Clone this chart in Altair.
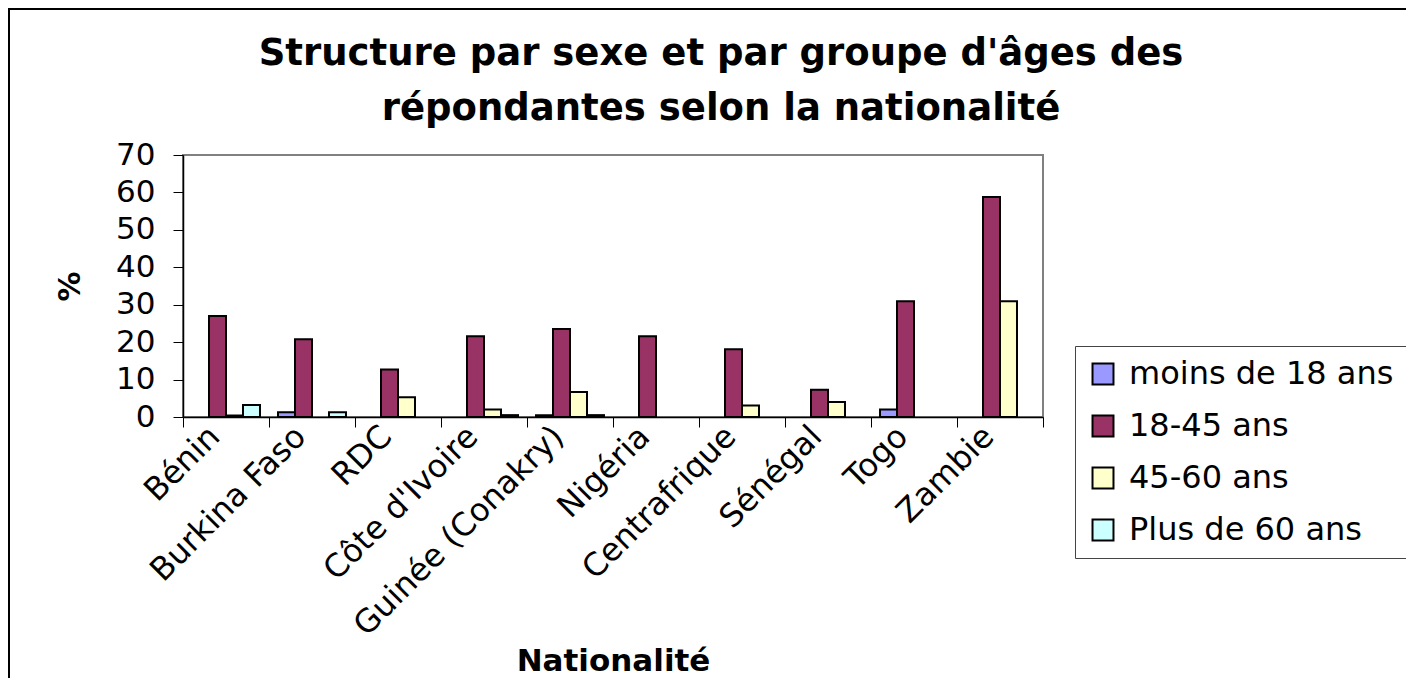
import altair as alt
import pandas as pd

title_lines = ["Structure par sexe et par groupe d'âges des",
               "répondantes selon la nationalité"]
countries = ["Bénin", "Burkina Faso", "RDC", "Côte d'Ivoire", "Guinée (Conakry)",
             "Nigéria", "Centrafrique", "Sénégal", "Togo", "Zambie"]
groups = ["moins de 18 ans", " 18-45 ans", "45-60 ans", "Plus de 60 ans"]
colors = ["#9999FF", "#993366", "#FFFFCC", "#CCFFFF"]

moins_18 = [0, 1.3, 0, 0, 0.5, 0, 0, 0, 2.0, 0]
age_18_45 = [27.0, 20.8, 12.7, 21.6, 23.5, 21.6, 18.1, 7.3, 30.9, 58.8]
age_45_60 = [0.4, 0, 5.3, 2.0, 6.7, 0, 3.1, 4.0, 0, 30.9]
plus_60 = [3.2, 1.3, 0, 0.5, 0.5, 0, 0, 0, 0, 0]

rows = []
for series, name in zip([moins_18, age_18_45, age_45_60, plus_60], groups):
    for c, v in zip(countries, series):
        if v > 0:
            rows.append({"Nationalité": c, "Groupe": name, "Valeur": v})
df = pd.DataFrame(rows)

FONT = "DejaVu Sans"

bars = alt.Chart(df).mark_bar(stroke="black", strokeWidth=2).encode(
    x=alt.X("Nationalité:N", sort=countries,
            scale=alt.Scale(paddingInner=0, paddingOuter=0),
            axis=alt.Axis(title="Nationalité", labelAngle=-45, labelAlign="right",
                          labelBaseline="middle", labelFontSize=32, labelFont=FONT,
                          labelColor="black", labelPadding=4, labelOffset=-12,
                          labelLimit=500,
                          tickBand="extent", tickSize=10, tickColor="black",
                          domainColor="black", domainWidth=1.5,
                          titleFont=FONT, titleFontSize=31, titleFontWeight="bold",
                          titleColor="black", titleY=253, titleBaseline="alphabetic")),
    xOffset=alt.XOffset("Groupe:N", sort=groups,
                        scale=alt.Scale(paddingInner=0, paddingOuter=0.53)),
    y=alt.Y("Valeur:Q",
            scale=alt.Scale(domain=[0, 70], nice=False),
            axis=alt.Axis(title="%", values=[0, 10, 20, 30, 40, 50, 60, 70],
                          grid=False, labelFontSize=31, labelFont=FONT,
                          labelColor="black", labelPadding=18,
                          tickSize=10, tickColor="black",
                          domainColor="black", domainWidth=1.5,
                          titleFont=FONT, titleFontSize=30, titleFontWeight="bold",
                          titleColor="black", titleAngle=-90, titleX=-104, titleY=131,
                          titleBaseline="alphabetic")),
    color=alt.Color("Groupe:N", sort=groups,
                    scale=alt.Scale(domain=groups, range=colors),
                    legend=alt.Legend(title=None, orient="none", legendX=892, legendY=191,
                                      symbolType="square", symbolSize=440,
                                      symbolStrokeColor="black", symbolStrokeWidth=2,
                                      labelFont=FONT, labelFontSize=32, labelColor="black",
                                      labelLimit=0, rowPadding=20, labelOffset=10,
                                      padding=12, strokeColor="#444444",
                                      symbolOpacity=1)),
)

title_df = pd.DataFrame({"t": [0]})
title = alt.Chart(title_df).mark_text(
    font=FONT, fontSize=37, fontWeight="bold", color="black",
    align="center", baseline="alphabetic", lineHeight=55,
).encode(
    x=alt.value(538), y=alt.value(-90), text=alt.value(title_lines)
)

frame_df = pd.DataFrame({"f": [0]})
frame = alt.Chart(frame_df).mark_rect(fill=None, stroke="black", strokeWidth=2).encode(
    x=alt.value(-174), x2=alt.value(1300), y=alt.value(-146), y2=alt.value(600)
)

chart = alt.layer(bars, title, frame).properties(
    width=860, height=262,
    autosize=alt.AutoSizeParams(type="none"),
    padding={"left": 175, "top": 147, "right": 363, "bottom": 261},
).configure_view(stroke="#808080", strokeWidth=2)

chart.save("out.html", embed_options={"renderer": "svg", "actions": False})
